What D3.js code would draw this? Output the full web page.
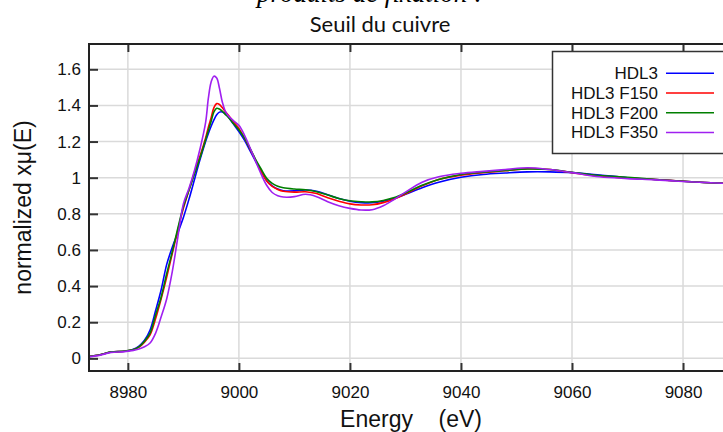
<!DOCTYPE html>
<html lang="fr">
<head>
    <meta charset="utf-8">
    <style>
        body { margin: 0; background: #fff; }
        svg { display: block; }
        .grid line { stroke: #dadada; stroke-width: 1.5; }
        .axis text { font-family: "Liberation Sans", Arial, sans-serif; font-size: 17px; fill: #111; }
        .axis line { stroke: #333; stroke-width: 2; }
        .axis path { display: none; }
        .serie { fill: none; stroke-width: 1.6; }
    </style>
    <script src="https://d3js.org/d3.v7.min.js"></script>
</head>
<body>
    <svg width="723" height="432"></svg>
    <script>
        // energies (eV) et absorbance normalisée de chaque échantillon
        var energy = [8973, 8975, 8977, 8979, 8980, 8981, 8982, 8983, 8984, 8985, 8986, 8987, 8988, 8989,
            8990, 8991, 8992, 8993, 8994, 8994.5, 8995, 8995.5, 8996, 8996.5, 8997, 8997.5, 8998, 8999, 9000,
            9001, 9002, 9003, 9004, 9005, 9006, 9007, 9008, 9010, 9012, 9014, 9016, 9018, 9020, 9022, 9024,
            9026, 9028, 9030, 9033, 9036, 9040, 9044, 9048, 9052, 9056, 9060, 9065, 9070, 9075, 9080, 9085, 9090];

        var hdl3 = [0.010, 0.020, 0.035, 0.038, 0.042, 0.050, 0.068, 0.100, 0.157, 0.265, 0.380, 0.520, 0.615, 0.695,
            0.780, 0.880, 0.990, 1.100, 1.200, 1.245, 1.285, 1.320, 1.348, 1.363, 1.364, 1.355, 1.340, 1.298, 1.255,
            1.208, 1.150, 1.092, 1.035, 0.985, 0.955, 0.937, 0.928, 0.927, 0.932, 0.925, 0.905, 0.885, 0.870, 0.862, 0.861,
            0.870, 0.886, 0.908, 0.945, 0.975, 1.002, 1.018, 1.026, 1.032, 1.032, 1.028, 1.015, 1.000, 0.990, 0.980, 0.972, 0.965];

        var hdl3F150 = [0.010, 0.020, 0.035, 0.038, 0.042, 0.048, 0.062, 0.090, 0.130, 0.220, 0.330, 0.450, 0.580, 0.710,
            0.830, 0.930, 1.030, 1.120, 1.220, 1.280, 1.332, 1.388, 1.410, 1.405, 1.388, 1.368, 1.350, 1.310, 1.273,
            1.220, 1.160, 1.097, 1.035, 0.982, 0.952, 0.935, 0.925, 0.920, 0.922, 0.912, 0.889, 0.870, 0.855, 0.849, 0.850,
            0.862, 0.882, 0.910, 0.955, 0.990, 1.014, 1.028, 1.038, 1.050, 1.045, 1.028, 1.008, 0.998, 0.990, 0.980, 0.972, 0.965];

        var hdl3F200 = [0.010, 0.020, 0.036, 0.039, 0.043, 0.049, 0.064, 0.095, 0.140, 0.240, 0.340, 0.470, 0.590, 0.720,
            0.840, 0.930, 1.020, 1.110, 1.210, 1.262, 1.312, 1.364, 1.384, 1.380, 1.368, 1.352, 1.338, 1.300, 1.264,
            1.220, 1.162, 1.102, 1.048, 0.997, 0.968, 0.952, 0.944, 0.937, 0.933, 0.922, 0.904, 0.885, 0.872, 0.867, 0.866,
            0.874, 0.890, 0.915, 0.958, 0.990, 1.018, 1.030, 1.040, 1.048, 1.045, 1.030, 1.012, 1.002, 0.990, 0.980, 0.972, 0.965];

        var hdl3F350 = [0.008, 0.018, 0.033, 0.036, 0.040, 0.044, 0.052, 0.064, 0.085, 0.140, 0.230, 0.330, 0.480, 0.670,
            0.855, 0.940, 1.040, 1.160, 1.305, 1.440, 1.530, 1.562, 1.552, 1.495, 1.420, 1.372, 1.346, 1.316, 1.290,
            1.236, 1.166, 1.092, 1.020, 0.958, 0.918, 0.900, 0.893, 0.895, 0.908, 0.895, 0.867, 0.845, 0.830, 0.821, 0.823,
            0.845, 0.880, 0.920, 0.975, 1.005, 1.024, 1.035, 1.045, 1.055, 1.045, 1.028, 1.005, 0.995, 0.988, 0.979, 0.972, 0.966];

        var seriesNames = ["HDL3", "HDL3 F150", "HDL3 F200", "HDL3 F350"];
        var seriesValues = [hdl3, hdl3F150, hdl3F200, hdl3F350];
        var seriesColors = ["#0000ff", "#ff0000", "#007f00", "#a020f0"];

        var xTicks = [8980, 9000, 9020, 9040, 9060, 9080];
        var yTicks = [0, 0.2, 0.4, 0.6, 0.8, 1, 1.2, 1.4, 1.6];

        var svg = d3.select("svg"),
            plotLeft = 89, plotTop = 44, plotRight = 733, plotBottom = 371;

        var x = d3.scaleLinear().domain([8973, 9089]).range([plotLeft, plotRight]);
        var y = d3.scaleLinear().domain([-0.07, 1.74]).range([plotBottom, plotTop]);

        // titre coupé en haut de l'image
        svg.append("text")
            .attr("x", 370)
            .attr("y", 1.5)
            .attr("text-anchor", "middle")
            .attr("font-family", "Liberation Serif, serif")
            .attr("font-style", "italic")
            .attr("font-size", "27px")
            .text("produits de fixation :");

        svg.append("text")
            .attr("x", 380)
            .attr("y", 31.5)
            .attr("text-anchor", "middle")
            .attr("font-family", "Lato, sans-serif")
            .attr("font-size", "22px")
            .attr("fill", "#111")
            .text("Seuil du cuivre");

        // grille
        var grid = svg.append("g").attr("class", "grid");
        grid.selectAll(".gx").data(xTicks).enter().append("line")
            .attr("x1", function(d) { return x(d); })
            .attr("x2", function(d) { return x(d); })
            .attr("y1", plotTop).attr("y2", plotBottom);
        grid.selectAll(".gy").data(yTicks).enter().append("line")
            .attr("y1", function(d) { return y(d); })
            .attr("y2", function(d) { return y(d); })
            .attr("x1", plotLeft).attr("x2", plotRight);

        svg.append("clipPath").attr("id", "clip")
            .append("rect")
            .attr("x", plotLeft).attr("y", plotTop)
            .attr("width", plotRight - plotLeft).attr("height", plotBottom - plotTop);

        var line = d3.line()
            .x(function(d) { return x(d[0]); })
            .y(function(d) { return y(d[1]); })
            .curve(d3.curveCatmullRom.alpha(0.5));

        var plot = svg.append("g").attr("clip-path", "url(#clip)");
        seriesValues.forEach(function(vals, i) {
            plot.append("path")
                .attr("class", "serie")
                .attr("stroke", seriesColors[i])
                .attr("d", line(d3.zip(energy, vals)));
        });

        // axes avec graduations vers l'intérieur
        svg.append("g")
            .attr("class", "axis")
            .attr("transform", "translate(0," + plotBottom + ")")
            .call(d3.axisBottom(x).tickValues(xTicks).tickSizeInner(-8).tickSizeOuter(0).tickPadding(14.5)
                .tickFormat(d3.format("d")));

        svg.append("g")
            .attr("class", "axis")
            .attr("transform", "translate(0," + plotTop + ")")
            .call(d3.axisTop(x).tickValues(xTicks).tickSizeInner(-8).tickSizeOuter(0).tickFormat(""));

        svg.append("g")
            .attr("class", "axis")
            .attr("transform", "translate(" + plotLeft + ",0)")
            .call(d3.axisLeft(y).tickValues(yTicks).tickSizeInner(-9).tickSizeOuter(0).tickPadding(8)
                .tickFormat(d3.format("~g")));

        svg.append("rect")
            .attr("x", plotLeft).attr("y", plotTop)
            .attr("width", plotRight - plotLeft).attr("height", plotBottom - plotTop)
            .attr("fill", "none")
            .attr("stroke", "#222")
            .attr("stroke-width", 2);

        // titres des axes
        svg.append("text")
            .attr("x", 411)
            .attr("y", 426.5)
            .attr("text-anchor", "middle")
            .attr("font-family", "Liberation Sans, Arial, sans-serif")
            .attr("font-size", "23px")
            .attr("fill", "#111")
            .style("white-space", "pre")
            .text("Energy    (eV)");

        svg.append("text")
            .attr("transform", "translate(31,207.5) rotate(-90)")
            .attr("text-anchor", "middle")
            .attr("font-family", "Liberation Sans, Arial, sans-serif")
            .attr("font-size", "23px")
            .attr("fill", "#111")
            .text("normalized xμ(E)");

        // légende
        var legend = svg.append("g");
        legend.append("rect")
            .attr("x", 552.5).attr("y", 51.5)
            .attr("width", 180).attr("height", 102)
            .attr("fill", "#fff")
            .attr("stroke", "#333")
            .attr("stroke-width", 1.5);

        var rows = legend.selectAll(".row").data(seriesNames).enter().append("g")
            .attr("transform", function(d, i) { return "translate(0," + (73.3 + i * 19.7) + ")"; });
        rows.append("text")
            .attr("x", 658)
            .attr("dy", "0.35em")
            .attr("text-anchor", "end")
            .attr("font-family", "Liberation Sans, Arial, sans-serif")
            .attr("font-size", "17px")
            .attr("fill", "#111")
            .text(function(d) { return d; });
        rows.append("line")
            .attr("x1", 666).attr("x2", 714)
            .attr("stroke-width", 1.5)
            .attr("stroke", function(d, i) { return seriesColors[i]; });
    </script>
</body>
</html>
